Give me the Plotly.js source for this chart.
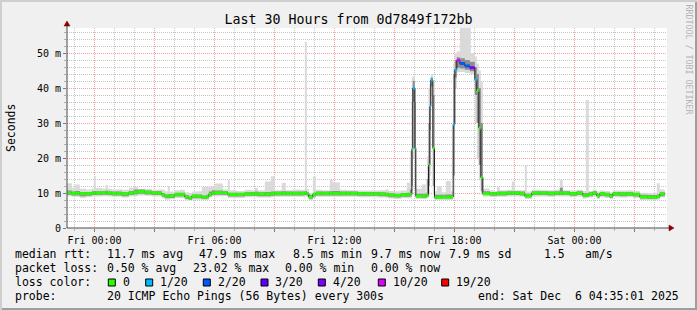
<!DOCTYPE html>
<html><head><meta charset="utf-8">
<script src="https://cdn.plot.ly/plotly-3.0.1.min.js"></script>
<style>html,body{margin:0;padding:0;background:#f0f0f0;overflow:hidden}</style>
</head><body><div id="chart" style="width:697px;height:310px"></div>
<script>
// ---- data: minutes since Fri 00:00, values in ms ----
const minutes = [
 -83,-68,-58,-44,-26,-8,-2,4,22,34,40,52,67,82,103,118,130,151,172,190,
 202,211,220,226,241,256,271,283,292,307,322,337,343,352,361,385,400,406,427,451,
 472,481,490,511,529,541,562,574,595,616,631,637,643,655,664,682,706,715,736,757,
 769,790,811,838,853,874,883,901,919,937,946,952,955,961,964,982,994,997,1002,1006,
 1009,1015,1020,1027,1042,1054,1069,1076,1081,1087,1096,1111,1126,1129,1141,1147,1153,1159,1165,1186,
 1198,1207,1216,1237,1252,1261,1276,1291,1297,1312,1336,1360,1381,1396,1405,1426,1447,1465,1474,1483,
 1495,1507,1516,1531,1546,1555,1576,1597,1615,1636,1660,1687,1696,1711];
const median = [
 10.1,9.9,9.9,9.8,9.8,10.0,10.0,10.0,10.1,10.1,10.0,9.9,9.9,9.7,10.0,10.2,10.4,10.2,10.0,10.0,
 9.5,9.1,9.1,9.2,9.6,9.6,8.9,8.5,9.1,9.1,8.8,8.9,9.6,10.0,10.1,10.1,9.6,9.6,9.6,9.8,
 9.8,9.8,9.7,9.7,9.8,9.9,9.9,9.9,9.9,9.9,10.0,9.8,8.8,9.6,9.9,9.9,9.9,9.9,9.9,9.9,
 9.9,9.8,9.8,9.8,9.7,9.6,9.4,9.3,9.5,9.5,9.6,22.5,40.0,22.8,9.1,9.1,9.2,9.4,18.0,34.7,
 42.3,22.8,8.8,8.8,8.9,8.8,8.9,29.6,45.2,47.9,47.0,46.3,45.8,45.8,42.4,39.3,28.6,14.5,9.8,9.8,
 9.8,9.9,9.9,10.0,10.0,10.0,9.9,9.2,9.2,10.0,10.0,9.9,10.0,10.0,10.0,9.8,10.0,9.3,9.4,9.6,
 10.0,9.2,9.8,9.6,9.1,9.8,9.7,9.8,9.6,8.9,8.8,9.0,9.7,9.7];
const pingLo = [
 9.1,8.9,8.9,8.6,8.8,9.0,9.0,9.0,9.1,9.1,9.0,8.9,8.9,8.7,9.0,9.1,9.3,9.2,9.0,9.0,
 8.5,8.1,8.1,8.2,8.6,8.6,7.9,7.7,8.1,8.1,7.9,8.0,8.7,9.0,9.1,9.1,8.6,8.6,8.6,8.8,
 8.8,8.8,8.7,8.7,8.8,8.9,8.9,8.9,8.9,8.9,9.0,8.8,7.9,8.6,8.9,8.9,8.9,8.9,8.9,8.9,
 8.9,8.8,8.8,8.8,8.7,8.6,8.4,8.3,8.5,8.5,8.6,9.5,20.0,9.0,8.3,8.2,8.3,8.5,9.5,15.0,
 38.0,9.5,8.0,8.0,8.0,8.0,8.0,9.0,40.0,44.5,44.6,44.3,44.0,44.0,30.0,20.0,14.0,9.5,9.0,8.8,
 8.8,8.9,8.9,9.0,9.0,9.0,8.9,8.3,8.3,9.0,9.0,8.9,9.0,9.0,9.0,8.8,9.0,8.4,8.5,8.7,
 9.0,8.3,8.8,8.6,8.2,8.8,8.7,8.8,8.6,8.0,7.9,8.1,8.7,8.7];
const smokeLo = [
 9.5,9.3,9.3,9.1,9.2,9.4,9.4,9.4,9.5,9.5,9.4,9.3,9.3,9.1,9.4,9.6,9.8,9.6,9.4,9.4,
 8.9,8.5,8.5,8.6,9.0,9.0,8.3,8.0,8.5,8.5,8.3,8.4,9.1,9.4,9.5,9.5,9.0,9.0,9.0,9.2,
 9.2,9.2,9.1,9.1,9.2,9.3,9.3,9.3,9.3,9.3,9.4,9.2,8.3,9.0,9.3,9.3,9.3,9.3,9.3,9.3,
 9.3,9.2,9.2,9.2,9.1,9.0,8.8,8.7,8.9,8.9,9.0,12.0,36.0,11.0,8.7,8.6,8.7,8.9,12.0,28.0,
 40.5,12.0,8.4,8.4,8.4,8.4,8.4,15.0,43.0,45.8,45.6,45.2,44.8,44.8,38.0,30.0,18.0,10.5,9.4,9.2,
 9.2,9.3,9.3,9.4,9.4,9.4,9.3,8.7,8.7,9.4,9.4,9.3,9.4,9.4,9.4,9.2,9.4,8.8,8.9,9.1,
 9.4,8.7,9.2,9.0,8.6,9.2,9.1,9.2,9.0,8.4,8.3,8.5,9.1,9.1];
const smokeHi = [
 10.7,10.4,10.6,10.3,10.3,10.5,10.6,10.5,10.6,10.7,10.5,10.4,10.4,10.2,10.6,11.0,11.0,10.7,10.5,10.5,
 10.0,9.6,9.7,9.7,10.1,10.1,9.4,9.0,9.6,9.6,9.3,9.5,10.4,10.8,10.7,10.6,10.1,10.1,10.1,10.3,
 10.3,10.4,10.2,10.3,10.4,10.4,10.5,10.4,10.4,10.4,10.6,10.3,9.4,10.1,10.4,10.4,10.5,10.6,10.4,10.4,
 10.4,10.3,10.3,10.3,10.2,10.1,9.9,9.8,10.0,10.1,11.0,36.0,42.0,36.0,9.8,9.8,9.8,14.0,30.0,41.0,
 43.0,38.0,9.5,9.5,9.5,9.6,9.5,44.0,48.0,48.8,48.5,48.0,47.5,47.5,46.0,44.0,40.0,30.0,10.5,10.3,
 10.3,10.4,10.4,10.5,10.5,10.5,10.4,9.8,9.8,10.5,10.5,10.4,10.5,11.5,10.5,10.3,10.5,9.9,10.0,10.2,
 10.5,9.8,10.3,10.1,9.7,10.3,10.2,10.3,10.1,9.5,9.4,9.6,10.2,10.2];
const pingHi = [
 12.8,11.5,12.4,11.2,11.0,11.3,14.8,11.4,11.3,12.2,11.2,11.0,11.1,10.9,11.5,11.8,11.2,11.2,10.9,11.0,
 11.0,10.5,12.0,10.4,10.8,10.9,10.2,10.0,10.4,10.5,11.8,11.8,11.8,11.9,12.7,11.0,13.8,10.8,10.6,10.9,
 10.8,11.5,10.8,13.3,14.8,10.8,12.9,10.8,11.0,10.9,53.2,11.2,10.0,14.7,10.9,10.8,13.8,13.0,10.9,10.8,
 10.8,10.7,10.7,10.7,10.8,11.0,10.6,10.5,10.7,12.9,22.0,42.9,43.5,40.0,11.2,12.4,10.3,20.4,40.0,43.0,
 44.0,42.0,10.5,11.9,10.2,13.4,10.5,47.0,50.0,50.5,60.0,60.0,60.0,50.0,49.0,47.0,45.0,42.0,11.3,10.8,
 10.5,11.8,10.8,10.9,13.3,10.8,10.8,18.0,10.4,10.9,10.8,10.8,10.9,13.7,10.8,10.8,10.9,10.6,36.6,10.6,
 10.9,10.4,10.7,10.6,10.2,10.7,10.7,10.8,10.6,10.1,10.0,12.8,11.0,11.0];
const lossCount = [
 0,0,0,0,0,0,0,0,0,0,0,0,0,0,0,0,0,0,0,0,
 0,0,0,0,0,0,0,0,0,0,0,0,0,0,0,0,0,0,0,0,
 0,0,0,0,0,0,0,0,0,0,0,0,0,0,0,0,0,0,0,0,
 0,0,0,0,0,0,0,0,0,0,0,0,1,1,0,0,0,0,0,1,
 1,0,0,0,0,0,0,1,1,5,2,2,3,4,1,0,0,0,0,0,
 0,0,0,0,0,0,0,0,0,0,0,0,0,0,0,0,0,0,0,0,
 0,0,0,0,0,0,0,0,0,0,0,0,0,0];

const xTickMinutes = [0,180,360,540,720,900,1080,1260,1440,1620];
const xTickLabels = ["Fri 00:00","","Fri 06:00","","Fri 12:00","","Fri 18:00","","Sat 00:00",""];
const yTickValues = [0,10,20,30,40,50];
const yTickLabels = ["0","10 m","20 m","30 m","40 m","50 m"];

const lossLevels = [0,1,2,3,4,10,19];
const lossLabels = ["0","1/20","2/20","3/20","4/20","10/20","19/20"];
const lossColors = ["#26ff00","#00b8ff","#0059ff","#5e00ff","#7e00ff","#dd00ff","#ff0000"];

const rttStats = ["median rtt:","11.7 ms avg","47.9 ms max","8.5 ms min","9.7 ms now","7.9 ms sd","1.5","am/s"];
const lossStats = ["packet loss:","0.50 % avg","23.02 % max","0.00 % min","0.00 % now"];
const probeStats = ["probe:","20 ICMP Echo Pings (56 Bytes) every 300s","end: Sat Dec  6 04:35:01 2025"];
const chartTitle = "Last 30 Hours from 0d7849f172bb";
const yTitle = "Seconds";
const sideText = "RRDTOOL / TOBI OETIKER";

// ---- layout helpers (pixel -> paper) ----
const PL = 67, PR = 667, PT = 28, PB = 228, W = 697, H = 310;
const px = x => (x - PL) / (PR - PL);
const py = y => (PB - y) / (PB - PT);
const FONT = "DejaVu Sans Mono";
const LFS = 11.5;
const nb = s => s.replace(/ /g, "\u00a0");

// ---- traces ----
const hidden = {mode:"lines", line:{shape:"hv", width:0, color:"rgba(0,0,0,0)"}, hoverinfo:"skip", showlegend:false};
const traces = [
  Object.assign({x:minutes, y:pingLo}, hidden),
  Object.assign({x:minutes, y:pingHi, fill:"tonexty", fillcolor:"#dadada"}, hidden),
  Object.assign({x:minutes, y:smokeLo}, hidden),
  Object.assign({x:minutes, y:smokeHi, fill:"tonexty", fillcolor:"#8e8e8e"}, hidden),
  {x:minutes, y:median, mode:"lines", line:{shape:"hv", width:1, color:"#202020"}, hoverinfo:"skip", showlegend:false}
];
const bucket = l => { for (let j = 0; j < lossLevels.length; j++) if (l <= lossLevels[j]) return j; return lossLevels.length - 1; };
const segs = lossColors.map(() => ({x:[], y:[]}));
for (let i = 0; i < minutes.length - 1; i++) {
  const s = segs[bucket(lossCount[i])];
  s.x.push(minutes[i], minutes[i+1], null);
  s.y.push(median[i], median[i], null);
}
segs.forEach((s, j) => {
  if (s.x.length) traces.push({x:s.x, y:s.y, mode:"lines", connectgaps:false,
    line:{width:3, color:lossColors[j]}, hoverinfo:"skip", showlegend:false});
});

// ---- shapes ----
const axisCol = "#4a4a4a", arrowCol = "#8b0000";
const shapes = [
  {type:"line", xref:"paper", yref:"paper", x0:px(67), x1:px(67), y0:py(228), y1:py(24), line:{color:axisCol, width:1}},
  {type:"line", xref:"paper", yref:"paper", x0:px(67), x1:px(671), y0:py(228), y1:py(228), line:{color:axisCol, width:1}},
  {type:"path", xref:"paper", yref:"paper", fillcolor:arrowCol, line:{color:arrowCol, width:0.5},
   path:`M ${px(64)} ${py(26)} L ${px(70)} ${py(26)} L ${px(67)} ${py(21)} Z`},
  {type:"path", xref:"paper", yref:"paper", fillcolor:arrowCol, line:{color:arrowCol, width:0.5},
   path:`M ${px(669)} ${py(225)} L ${px(669)} ${py(231)} L ${px(674)} ${py(228)} Z`},
  // frame shading
  {type:"rect", xref:"paper", yref:"paper", x0:px(0), x1:px(W), y0:py(0), y1:py(2), fillcolor:"#cfcfcf", line:{width:0}},
  {type:"rect", xref:"paper", yref:"paper", x0:px(0), x1:px(2), y0:py(0), y1:py(H), fillcolor:"#cfcfcf", line:{width:0}},
  {type:"rect", xref:"paper", yref:"paper", x0:px(2), x1:px(W), y0:py(H-2), y1:py(H), fillcolor:"#9e9e9e", line:{width:0}},
  {type:"rect", xref:"paper", yref:"paper", x0:px(W-2), x1:px(W), y0:py(2), y1:py(H), fillcolor:"#9e9e9e", line:{width:0}}
];

// ---- annotations ----
const ann = [];
const txt = (s, x, y, opts) => ann.push(Object.assign({text:nb(s), xref:"paper", yref:"paper",
  x:px(x), y:py(y), xanchor:"left", yanchor:"middle", showarrow:false, borderpad:0, borderwidth:0,
  font:{family:FONT, size:LFS, color:"#000"}}, opts || {}));

const rttX = [16, 107.3, 200, 293.3, 372, 449.3, 544.3, 586];
rttStats.forEach((s, i) => txt(s, rttX[i] - 0.6, 254.3));
const lossX = [16, 107.3, 193.3, 286, 372];
lossStats.forEach((s, i) => txt(s, lossX[i] - 0.6, 268.3));
txt("loss color:", 15.4, 282.3);
const boxX = [108.3, 145.7, 203.3, 261, 318.3, 378.3, 441.7];
lossLabels.forEach((s, i) => {
  shapes.push({type:"rect", xref:"paper", yref:"paper", x0:px(boxX[i]), x1:px(boxX[i] + 7),
    y0:py(279), y1:py(286), fillcolor:lossColors[i], line:{color:"#000", width:1}});
  txt(s, boxX[i] + 14.4, 282.3);
});
const probeX = [16, 107.3, 478.3];
probeStats.forEach((s, i) => txt(s, probeX[i] - 0.6, 295.8));

ann.push({text:yTitle, xref:"paper", yref:"paper", x:px(11), y:py(128), xanchor:"center", yanchor:"middle",
  textangle:-90, showarrow:false, font:{family:FONT, size:LFS, color:"#000"}});
ann.push({text:nb(sideText), xref:"paper", yref:"paper", x:px(688.5), y:py(59), xanchor:"center", yanchor:"middle",
  textangle:90, showarrow:false, font:{family:FONT, size:8.3, color:"#b4b4b4"}});

const grid = {gridcolor:"#ff9e9e", griddash:"1px,1px", gridwidth:1};
const minorGrid = {showgrid:true, gridcolor:"#c6c6c6", griddash:"1px,1px", gridwidth:1,
  ticks:"outside", ticklen:2, tickcolor:"#b0b0b0", tickwidth:1};

const layout = {
  width:W, height:H,
  margin:{l:PL, r:W-PR, t:PT, b:H-PB, pad:0},
  paper_bgcolor:"#f0f0f0", plot_bgcolor:"#ffffff",
  showlegend:false,
  font:{family:FONT, size:10, color:"#000"},
  title:{text:chartTitle, x:0.5, xref:"container", xanchor:"center", y:1 - 19/H, yref:"container", yanchor:"middle",
    font:{family:FONT, size:13.3, color:"#000"}},
  xaxis:Object.assign({range:[-82.5, 1717.5], tickmode:"array", tickvals:xTickMinutes, ticktext:xTickLabels,
    showgrid:true, zeroline:false, showline:false, ticks:"outside", ticklen:3, tickcolor:"#7a7a7a",
    tickfont:{family:FONT, size:10, color:"#000"}, fixedrange:true,
    minor:Object.assign({tickmode:"linear", tick0:0, dtick:60}, minorGrid)}, grid),
  yaxis:Object.assign({range:[0, 200/3.5], tickmode:"array", tickvals:yTickValues, ticktext:yTickLabels,
    showgrid:true, zeroline:false, showline:false, ticks:"outside", ticklen:3, tickcolor:"#7a7a7a",
    tickfont:{family:FONT, size:10, color:"#000"}, fixedrange:true,
    minor:Object.assign({tickmode:"linear", tick0:0, dtick:2}, minorGrid)}, grid),
  shapes:shapes,
  annotations:ann
};

Plotly.newPlot("chart", traces, layout, {displayModeBar:false, staticPlot:true});
</script></body></html>
